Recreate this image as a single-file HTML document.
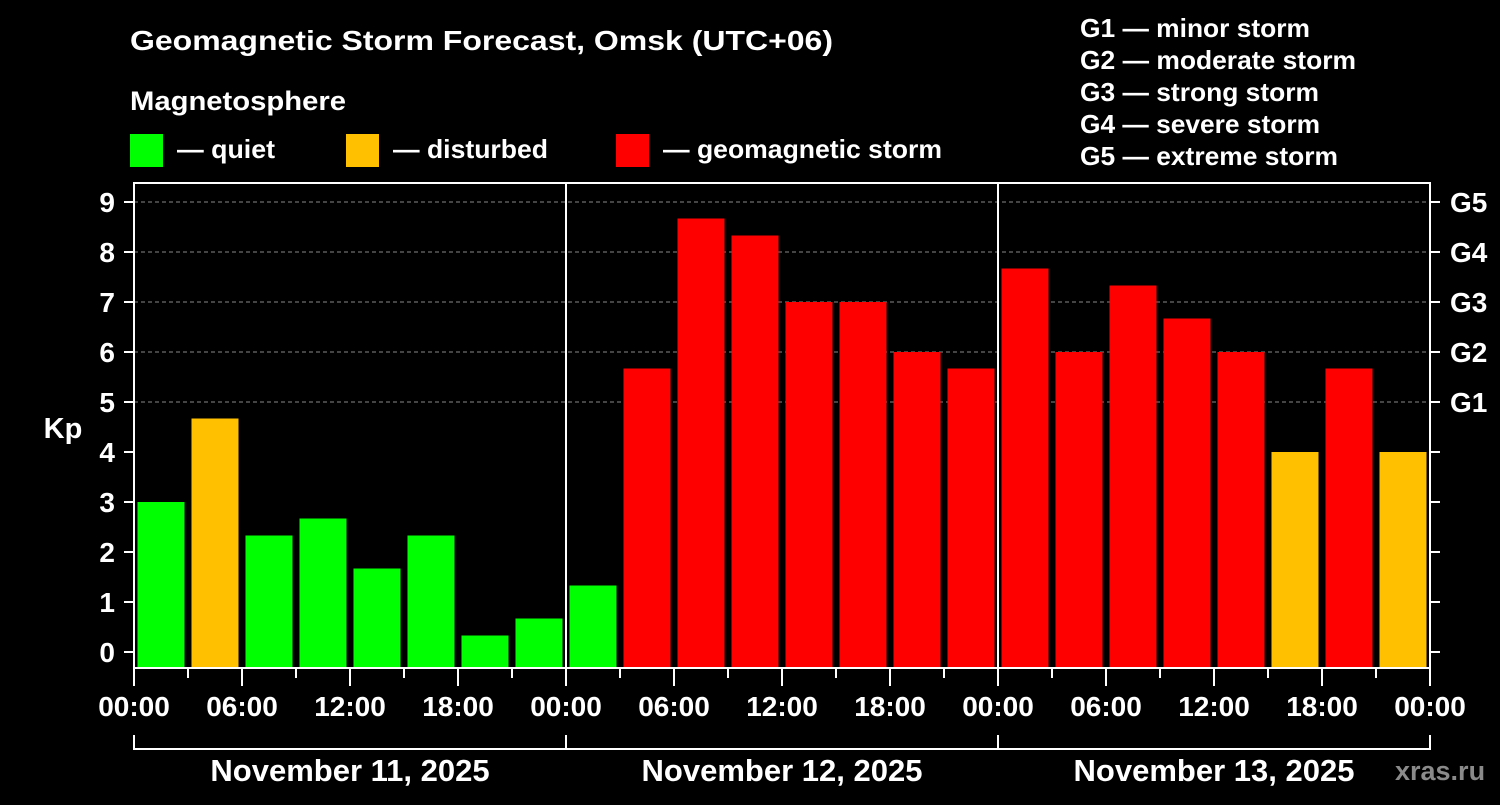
<!DOCTYPE html>
<html><head><meta charset="utf-8"><style>
html,body{margin:0;background:#000;}
svg text{font-family:"Liberation Sans",sans-serif;font-weight:bold;fill:#fff;}
</style></head><body>
<svg width="1500" height="800" xmlns="http://www.w3.org/2000/svg">
<rect width="1500" height="800" fill="#000"/>
<text x="130" y="50" font-size="28" textLength="703" lengthAdjust="spacingAndGlyphs">Geomagnetic Storm Forecast, Omsk (UTC+06)</text>
<text x="130" y="110" font-size="27" textLength="216" lengthAdjust="spacingAndGlyphs">Magnetosphere</text>
<g>
<rect x="130" y="134" width="33" height="33" fill="#00ff00"/><text x="177" y="158" font-size="26" textLength="98" lengthAdjust="spacingAndGlyphs">— quiet</text>
<rect x="346" y="134" width="33" height="33" fill="#ffc000"/><text x="393" y="158" font-size="26" textLength="155" lengthAdjust="spacingAndGlyphs">— disturbed</text>
<rect x="616" y="134" width="33" height="33" fill="#ff0000"/><text x="663" y="158" font-size="26" textLength="279" lengthAdjust="spacingAndGlyphs">— geomagnetic storm</text>
</g>
<g font-size="26">
<text x="1080" y="37" textLength="230" lengthAdjust="spacingAndGlyphs">G1 — minor storm</text>
<text x="1080" y="69" textLength="276" lengthAdjust="spacingAndGlyphs">G2 — moderate storm</text>
<text x="1080" y="101" textLength="239" lengthAdjust="spacingAndGlyphs">G3 — strong storm</text>
<text x="1080" y="133" textLength="240" lengthAdjust="spacingAndGlyphs">G4 — severe storm</text>
<text x="1080" y="165" textLength="258" lengthAdjust="spacingAndGlyphs">G5 — extreme storm</text>
</g>
<g id="plot"></g>
<text x="1395" y="780" font-size="27" style="fill:#8a8a8a">xras.ru</text>
</svg>
<script>
const days = ["November 11, 2025","November 12, 2025","November 13, 2025"];
const kp = [3,4.67,2.33,2.67,1.67,2.33,0.33,0.67, 1.33,5.67,8.67,8.33,7,7,6,5.67, 7.67,6,7.33,6.67,6,4,5.67,4];
const yTicks = [0,1,2,3,4,5,6,7,8,9];
const gLabels = ["G1","G2","G3","G4","G5"];
const xLabels = ["00:00","06:00","12:00","18:00"];
const NS="http://www.w3.org/2000/svg";
const g=document.getElementById('plot');
const L=134,R=1430,T=183,B=668;
const hw=(R-L)/(days.length*24);
const x=h=>L+h*hw;
const y=v=>652-v*50;
function mk(t,a,txt){const e=document.createElementNS(NS,t);for(const k in a)e.setAttribute(k,a[k]);if(txt!==undefined)e.textContent=txt;g.appendChild(e);return e;}
gLabels.forEach((lab,i)=>{const v=5+i;
 const l=mk('line',{x1:L,x2:R,y1:y(v),y2:y(v),stroke:'#888','stroke-dasharray':'4,3','stroke-width':1});
 
 
 const t=mk('text',{x:1450,y:y(v)+10,'font-size':28},lab);
 
 
});
const col=v=>v>=5?'#ff0000':(v>=4?'#ffc000':'#00ff00');
kp.forEach((v,i)=>{
 const r=mk('rect',{x:x(i*3)+3.5,y:y(v),width:hw*3-7,height:B-y(v),fill:col(v)});
 
 
});
const fr=mk('rect',{x:L,y:T,width:R-L,height:B-T,fill:'none',stroke:'#fff','stroke-width':2});


for(let d=1;d<days.length;d++){const l=mk('line',{x1:x(d*24),x2:x(d*24),y1:T,y2:B,stroke:'#fff','stroke-width':2});
 
 }
yTicks.forEach(v=>{
 mk('line',{x1:L-10,x2:L,y1:y(v),y2:y(v),stroke:'#fff','stroke-width':2});
 mk('line',{x1:R,x2:R+10,y1:y(v),y2:y(v),stroke:'#fff','stroke-width':2});
 const t=mk('text',{x:L-19,y:y(v)+10,'font-size':28,'text-anchor':'end'},String(v));
 
 
});
const yt=mk('text',{x:63,y:438,'font-size':29,'text-anchor':'middle'},'Kp');


for(let h=0;h<=days.length*24;h+=3){
 const major=h%6===0;
 mk('line',{x1:x(h),x2:x(h),y1:B,y2:B+(major?18:10),stroke:'#fff','stroke-width':2});
 if(major){const t=mk('text',{x:x(h),y:716,'font-size':28,'text-anchor':'middle'},xLabels[(h/6)%4]);
  
  }
}
mk('line',{x1:L,x2:R,y1:749,y2:749,stroke:'#fff','stroke-width':2});
days.forEach((d,i)=>{
 mk('line',{x1:x(i*24),x2:x(i*24),y1:735,y2:750,stroke:'#fff','stroke-width':2});
 const t=mk('text',{x:x(i*24+12),y:781,'font-size':31,'text-anchor':'middle'},d);
 
 
});
mk('line',{x1:R,x2:R,y1:735,y2:750,stroke:'#fff','stroke-width':2});
</script>
</body></html>
